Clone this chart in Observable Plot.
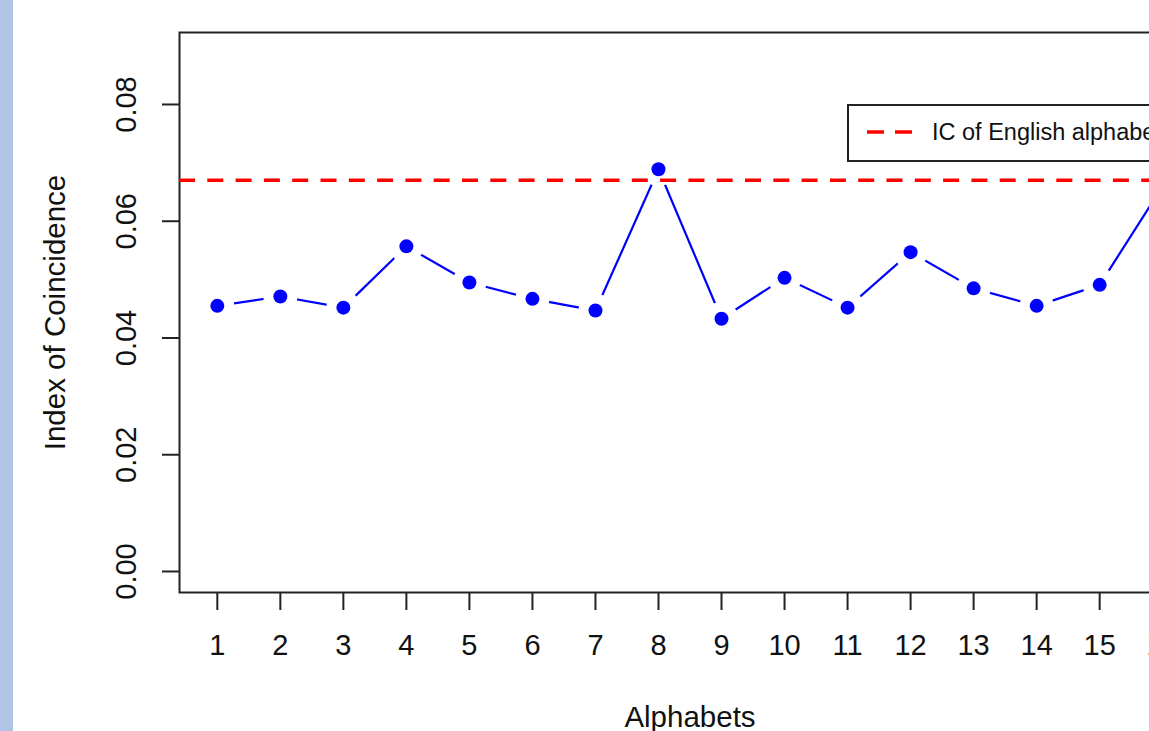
<!DOCTYPE html>
<html>
<head>
<meta charset="utf-8">
<script src="https://cdn.jsdelivr.net/npm/d3@7"></script>
<script src="https://cdn.jsdelivr.net/npm/@observablehq/plot@0.6"></script>
<style>
  html, body { margin: 0; padding: 0; background: #fff; overflow: hidden; width: 1149px; height: 731px; }
  #strip { position: absolute; left: 0; top: 0; width: 13px; height: 731px; background: #b0c4e6; z-index: 2; }
  #chart { position: absolute; left: 0; top: 0; width: 1220px; }
  #chart svg { max-width: none !important; width: 1220px !important; height: 731px !important; display: block; }
  #legend { position: absolute; left: 847px; top: 104px; width: 335px; height: 58px; box-sizing: border-box;
            border: 2px solid #222; background: #fff; font-family: "Liberation Sans", Arial, sans-serif; font-size: 23.5px; color: #111; }
  #legend svg { position: absolute; left: 18px; top: 0; }
  #legend span { position: absolute; left: 83px; top: 50%; transform: translateY(-52%); white-space: nowrap; }
</style>
</head>
<body>
<div id="strip"></div>
<div id="chart"></div>
<div id="legend">
  <svg width="50" height="54"><line x1="0" x2="46" y1="26" y2="26" stroke="#ff0000" stroke-width="3.5" stroke-dasharray="17,11"></line></svg>
  <span>IC of English alphabet</span>
</div>
<script>
const alphabets = [1, 2, 3, 4, 5, 6, 7, 8, 9, 10, 11, 12, 13, 14, 15, 16];
const icValues = [0.0455, 0.0471, 0.0452, 0.0557, 0.0495, 0.0467, 0.0447, 0.0689, 0.0433, 0.0503, 0.0452, 0.0547, 0.0485, 0.0455, 0.0491, 0.0660];
const englishIC = 0.0670;
const yTicks = [0, 0.02, 0.04, 0.06, 0.08];
const yTickLabels = ["0.00", "0.02", "0.04", "0.06", "0.08"];
const xLabel = "Alphabets";
const yLabel = "Index of Coincidence";
const legendLabel = "IC of English alphabet";

const data = alphabets.map((a, i) => ({alphabet: a, ic: icValues[i]}));

const chart = Plot.plot({
  width: 1220,
  height: 731,
  marginLeft: 179,
  marginRight: 20,
  marginTop: 32,
  marginBottom: 139,
  style: {fontFamily: "'Liberation Sans', Arial, sans-serif", fontSize: "29px", color: "#111", background: "transparent", maxWidth: "none"},
  x: {domain: [0.4, 16.6]},
  y: {domain: [-0.0036, 0.09233]},
  marks: [
    Plot.frame({stroke: "#222", strokeWidth: 2}),
    Plot.axisX({ticks: alphabets, tickSize: 18, tickPadding: 24, tickFormat: d => String(d), label: null, strokeWidth: 2, stroke: "#222", fontSize: 29}),
    Plot.axisY({ticks: yTicks, tickSize: 17, tickPadding: 27, tickRotate: -90, textAnchor: "middle", lineAnchor: "bottom",
                tickFormat: d => yTickLabels[yTicks.indexOf(d)], label: null, strokeWidth: 2, stroke: "#222", fontSize: 29}),
    Plot.text([yLabel], {frameAnchor: "left", dx: -115, rotate: -90, lineAnchor: "bottom", textAnchor: "middle", fontSize: 29.5, fill: "#111"}),
    Plot.text([xLabel], {frameAnchor: "bottom", dy: 134, lineAnchor: "bottom", textAnchor: "middle", fontSize: 29.5, fill: "#111"}),
    Plot.line(data, {x: "alphabet", y: "ic", stroke: "#0000ff", strokeWidth: 2.2}),
    Plot.dot(data, {x: "alphabet", y: "ic", r: 17, fill: "white", stroke: "none"}),
    Plot.ruleY([englishIC], {stroke: "#ff0000", strokeWidth: 3.5, strokeDasharray: "16,12.3"}),
    Plot.dot(data, {x: "alphabet", y: "ic", r: 7, fill: "#0000ff", stroke: "none"})
  ]
});
document.getElementById("chart").appendChild(chart);
document.querySelector("#legend span").textContent = legendLabel;
</script>
</body>
</html>
